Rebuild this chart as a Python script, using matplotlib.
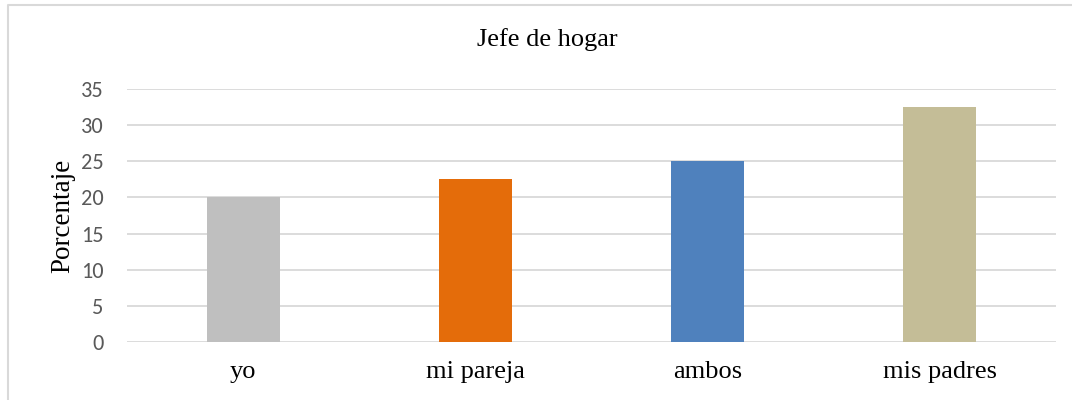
import matplotlib.pyplot as plt
from matplotlib.lines import Line2D

categorias = ["yo", "mi pareja", "ambos", "mis padres"]
porcentajes = [20, 22.5, 25, 32.5]
colores = ["#bfbfbf", "#e46c0a", "#4f81bd", "#c4bd97"]
ticks_y = [0, 5, 10, 15, 20, 25, 30, 35]

serif = ["Liberation Serif", "DejaVu Serif"]
sans = ["Carlito", "Liberation Sans", "DejaVu Sans"]

fig = plt.figure(figsize=(10.72, 4.0), dpi=100)
W, H = 1072, 400
# plot area in pixels: x 127..1056, y 89..342
ax = fig.add_axes([127 / W, 1 - 342 / H, (1056 - 127) / W, (342 - 89) / H])

# chart frame: only left and top edges are visible
fx, fy = 8 / W, 1 - 5 / H
fig.add_artist(Line2D([fx, fx, 1.0], [0.0, fy, fy], transform=fig.transFigure,
                      color="#d9d9d9", linewidth=1.5))

x = range(len(categorias))
ax.bar(x, porcentajes, width=0.315, color=colores, zorder=3)

ax.set_xlim(-0.5, 3.5)
ax.set_ylim(0, 35)
ax.set_yticks(ticks_y)
ax.grid(axis="y", color="#d9d9d9", linewidth=1.3, zorder=0)
for s in ax.spines.values():
    s.set_visible(False)
ax.tick_params(axis="both", length=0)
ax.tick_params(axis="y", pad=17, labelsize=16, labelcolor="#595959")
ax.tick_params(axis="x", pad=14)
ax.set_xticks(list(x))
ax.set_xticklabels(categorias, fontfamily=serif, fontsize=19, color="black")
for t in ax.get_yticklabels():
    t.set_fontfamily(sans)

ax.set_ylabel("Porcentaje", fontfamily=serif, fontsize=19.5, labelpad=4)
fig.text(547 / W, 1 - 40 / H, "Jefe de hogar", ha="center", va="center",
         fontfamily=serif, fontsize=19)

fig.savefig("out.png", dpi=100)
